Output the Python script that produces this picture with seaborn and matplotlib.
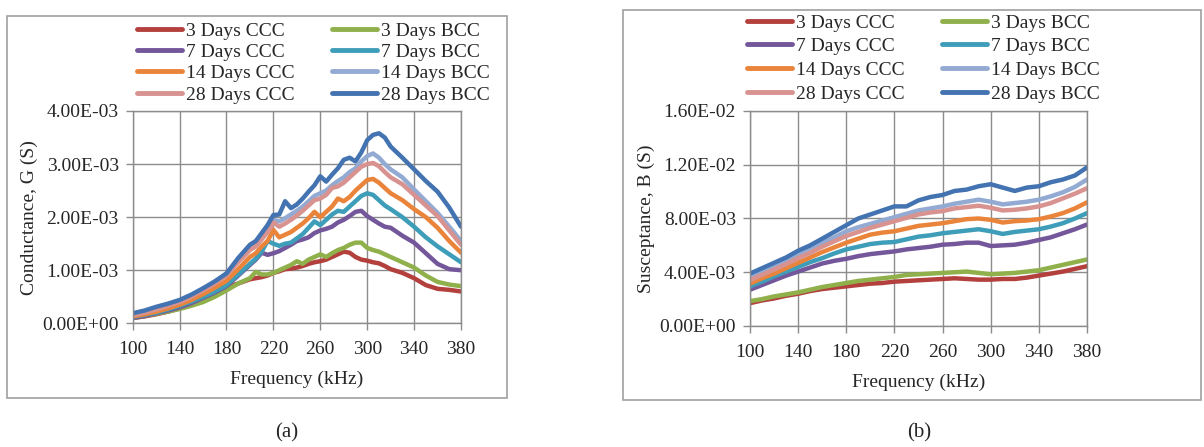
import seaborn as sns
import matplotlib.pyplot as plt
import matplotlib.patches as patches
from matplotlib.lines import Line2D
from matplotlib.ticker import FuncFormatter
import pandas as pd

# series names and colours
series = ["3 Days CCC", "3 Days BCC", "7 Days CCC", "7 Days BCC",
          "14 Days CCC", "14 Days BCC", "28 Days CCC", "28 Days BCC"]
colors = ["#B3403D", "#8FB04A", "#74579A", "#3E9DB8",
          "#E9843A", "#93AAD3", "#D89290", "#4373B0"]

# panel (a): conductance, values in 1e-3 S
freq_a = [100, 110, 120, 130, 140, 150, 160, 170, 180, 190, 200, 205, 210, 215, 220,
          225, 230, 235, 240, 245, 250, 255, 260, 265, 270, 275, 280, 285, 290, 295,
          300, 305, 310, 315, 320, 330, 340, 350, 360, 370, 380]
g_3ccc = [.10, .13, .17, .22, .28, .35, .42, .55, .68, .75, .83, .85, .87, .90, .95,
          .98, 1.02, 1.03, 1.05, 1.08, 1.12, 1.15, 1.17, 1.20, 1.25, 1.30, 1.35, 1.33, 1.25, 1.20,
          1.18, 1.15, 1.13, 1.08, 1.02, .95, .85, .72, .65, .63, .60]
g_3bcc = [.10, .14, .18, .22, .27, .33, .40, .50, .62, .75, .85, .97, .92, .92, .95,
          1.00, 1.05, 1.10, 1.17, 1.12, 1.20, 1.25, 1.30, 1.25, 1.32, 1.38, 1.42, 1.48, 1.52, 1.52,
          1.42, 1.38, 1.35, 1.30, 1.25, 1.15, 1.05, .90, .78, .73, .70]
g_7ccc = [.10, .14, .19, .24, .30, .38, .48, .58, .70, .90, 1.10, 1.20, 1.33, 1.29, 1.32,
          1.36, 1.42, 1.48, 1.55, 1.58, 1.62, 1.70, 1.75, 1.78, 1.82, 1.90, 1.95, 2.02, 2.10, 2.12,
          2.02, 1.95, 1.88, 1.82, 1.80, 1.65, 1.52, 1.32, 1.12, 1.02, 1.00]
g_7bcc = [.12, .16, .20, .26, .33, .41, .50, .60, .72, .92, 1.12, 1.22, 1.35, 1.55, 1.50,
          1.46, 1.50, 1.52, 1.60, 1.68, 1.80, 1.92, 1.85, 1.95, 2.05, 2.12, 2.10, 2.20, 2.30, 2.40,
          2.45, 2.42, 2.32, 2.22, 2.15, 2.00, 1.82, 1.62, 1.45, 1.30, 1.15]
g_14ccc = [.13, .17, .22, .28, .35, .44, .55, .67, .80, 1.02, 1.25, 1.32, 1.45, 1.55, 1.76,
           1.62, 1.67, 1.72, 1.80, 1.88, 1.98, 2.10, 2.00, 2.10, 2.20, 2.35, 2.30, 2.38, 2.50, 2.60,
           2.70, 2.72, 2.65, 2.55, 2.45, 2.32, 2.15, 2.00, 1.80, 1.55, 1.33]
g_14bcc = [.17, .22, .28, .34, .42, .52, .64, .77, .94, 1.18, 1.42, 1.50, 1.62, 1.78, 1.95,
           1.92, 1.98, 2.05, 2.12, 2.20, 2.30, 2.40, 2.45, 2.50, 2.60, 2.68, 2.75, 2.85, 2.92, 3.05,
           3.15, 3.20, 3.12, 3.00, 2.90, 2.75, 2.52, 2.30, 2.08, 1.82, 1.55]
g_28ccc = [.15, .20, .26, .33, .40, .50, .62, .75, .90, 1.15, 1.38, 1.45, 1.58, 1.72, 1.90,
           1.82, 1.88, 1.95, 2.03, 2.12, 2.22, 2.32, 2.35, 2.42, 2.55, 2.58, 2.65, 2.75, 2.85, 2.95,
           3.00, 3.02, 2.96, 2.85, 2.75, 2.62, 2.42, 2.22, 2.02, 1.75, 1.48]
g_28bcc = [.19, .24, .31, .37, .44, .54, .66, .79, .94, 1.23, 1.48, 1.55, 1.70, 1.85, 2.04,
           2.05, 2.30, 2.17, 2.24, 2.35, 2.48, 2.60, 2.77, 2.67, 2.80, 2.92, 3.08, 3.12, 3.05, 3.22,
           3.45, 3.55, 3.58, 3.50, 3.33, 3.12, 2.90, 2.68, 2.48, 2.18, 1.82]

# panel (b): susceptance, values in 1e-3 S
freq_b = list(range(100, 381, 10))
b_3ccc = [1.7, 1.9, 2.05, 2.25, 2.4, 2.6, 2.75, 2.85, 2.95, 3.05, 3.15, 3.2, 3.3, 3.35, 3.4,
          3.45, 3.5, 3.55, 3.5, 3.45, 3.45, 3.5, 3.5, 3.6, 3.75, 3.9, 4.05, 4.25, 4.45]
b_3bcc = [1.85, 2.0, 2.2, 2.35, 2.5, 2.7, 2.9, 3.05, 3.2, 3.35, 3.45, 3.55, 3.65, 3.8, 3.85,
          3.9, 3.95, 4.0, 4.05, 3.95, 3.85, 3.9, 3.95, 4.05, 4.15, 4.35, 4.55, 4.75, 4.95]
b_7ccc = [2.7, 3.05, 3.4, 3.75, 4.05, 4.35, 4.65, 4.85, 5.0, 5.2, 5.35, 5.45, 5.55, 5.7, 5.8,
          5.9, 6.05, 6.1, 6.2, 6.2, 5.95, 6.0, 6.05, 6.2, 6.4, 6.6, 6.9, 7.2, 7.55]
b_7bcc = [2.95, 3.3, 3.7, 4.05, 4.4, 4.75, 5.05, 5.4, 5.7, 5.9, 6.1, 6.2, 6.25, 6.45, 6.65,
          6.75, 6.9, 7.0, 7.1, 7.2, 7.05, 6.85, 7.0, 7.1, 7.2, 7.4, 7.65, 8.0, 8.4]
b_14ccc = [3.15, 3.55, 3.9, 4.3, 4.7, 5.1, 5.5, 5.85, 6.2, 6.5, 6.8, 6.95, 7.05, 7.25, 7.45,
           7.55, 7.65, 7.8, 7.95, 8.0, 7.9, 7.7, 7.8, 7.85, 7.95, 8.15, 8.4, 8.75, 9.2]
b_14bcc = [3.7, 4.1, 4.5, 4.9, 5.35, 5.8, 6.2, 6.6, 7.05, 7.35, 7.6, 7.85, 8.1, 8.35, 8.6,
           8.75, 8.9, 9.1, 9.25, 9.4, 9.25, 9.05, 9.15, 9.25, 9.4, 9.65, 9.95, 10.35, 10.9]
b_28ccc = [3.4, 3.8, 4.2, 4.6, 5.05, 5.45, 5.9, 6.3, 6.7, 7.0, 7.3, 7.55, 7.8, 8.05, 8.3,
           8.45, 8.55, 8.75, 8.85, 8.95, 8.8, 8.6, 8.65, 8.75, 8.9, 9.15, 9.5, 9.85, 10.25]
b_28bcc = [3.9, 4.3, 4.7, 5.1, 5.6, 6.0, 6.5, 7.0, 7.5, 8.0, 8.3, 8.6, 8.9, 8.9, 9.35,
           9.6, 9.75, 10.05, 10.15, 10.4, 10.55, 10.3, 10.05, 10.3, 10.4, 10.7, 10.9, 11.2, 11.8]

G = [g_3ccc, g_3bcc, g_7ccc, g_7bcc, g_14ccc, g_14bcc, g_28ccc, g_28bcc]
B = [b_3ccc, b_3bcc, b_7ccc, b_7bcc, b_14ccc, b_14bcc, b_28ccc, b_28bcc]


def long_df(freq, vals):
    rows = []
    for name, v in zip(series, vals):
        for f, y in zip(freq, v):
            rows.append({"Frequency": f, "value": y * 1e-3, "series": name})
    return pd.DataFrame(rows)


df_a = long_df(freq_a, G)
df_b = long_df(freq_b, B)

sns.set_theme(style="white")
plt.rcParams['font.family'] = ['Liberation Serif', 'DejaVu Serif']
plt.rcParams['font.size'] = 14
plt.rcParams['axes.linewidth'] = 1.0

fig = plt.figure(figsize=(12.04, 4.47), dpi=100)

# outer frames
fig.patches.append(patches.Rectangle((0.0058, 0.1096), 0.4153, 0.8546, transform=fig.transFigure,
                                     fill=False, edgecolor="#a0a0a0", linewidth=1.2))
fig.patches.append(patches.Rectangle((0.5174, 0.105), 0.4800, 0.8725, transform=fig.transFigure,
                                     fill=False, edgecolor="#a0a0a0", linewidth=1.2))

ax_a = fig.add_axes([0.1102, 0.2767, 0.2727, 0.4750])
ax_b = fig.add_axes([0.6229, 0.2707, 0.2799, 0.4810])

pal = dict(zip(series, colors))
fmt = FuncFormatter(lambda v, p: f"{v:.2E}")

for ax, df, ymax, ystep, ylabel in [(ax_a, df_a, 4e-3, 1e-3, "Conductance, G (S)"),
                                     (ax_b, df_b, 16e-3, 4e-3, "Susceptance, B (S)")]:
    sns.lineplot(data=df, x="Frequency", y="value", hue="series", hue_order=series,
                 palette=pal, linewidth=3.2, legend=False, ax=ax)
    ax.set_xlim(100, 380)
    ax.set_ylim(0, ymax)
    ax.set_xticks(range(100, 381, 40))
    ax.set_yticks([i * ystep for i in range(5)])
    ax.yaxis.set_major_formatter(fmt)
    ax.grid(True, color="#8c8c8c", linewidth=1.0)
    ax.set_axisbelow(True)
    for s in ax.spines.values():
        s.set_color("#8c8c8c")
    ax.tick_params(direction="out", length=5, width=1, color="#8c8c8c",
                   labelsize=14, left=True, bottom=True)
    ax.tick_params(axis="y", pad=5)
    ax.tick_params(axis="x", pad=8)
    ax.set_xlabel("Frequency (kHz)", fontsize=14, labelpad=9)
    ax.set_ylabel(ylabel, fontsize=14, labelpad=3)

# legends: two single-column legends per panel


def add_legends(x_ccc, x_bcc, y_top, spacing):
    for idx, x0 in [(0, x_ccc), (1, x_bcc)]:
        names = series[idx::2]
        cols = colors[idx::2]
        handles = [Line2D([], [], color=c, linewidth=3.5) for c in cols]
        fig.legend(handles, names, loc="upper left", bbox_to_anchor=(x0, y_top),
                   frameon=False, fontsize=14, handlelength=2.3, handletextpad=0.2,
                   labelspacing=spacing, borderpad=0, borderaxespad=0)


add_legends(137 / 1204, 332 / 1204, 1 - 22 / 447, 0.19)
add_legends(747 / 1204, 942 / 1204, 1 - 14 / 447, 0.31)

fig.text(287 / 1204, 1 - 433 / 447, "(a)", ha="center", va="center", fontsize=15)
fig.text(919 / 1204, 1 - 433 / 447, "(b)", ha="center", va="center", fontsize=15)

fig.savefig("out.png", dpi=100)
